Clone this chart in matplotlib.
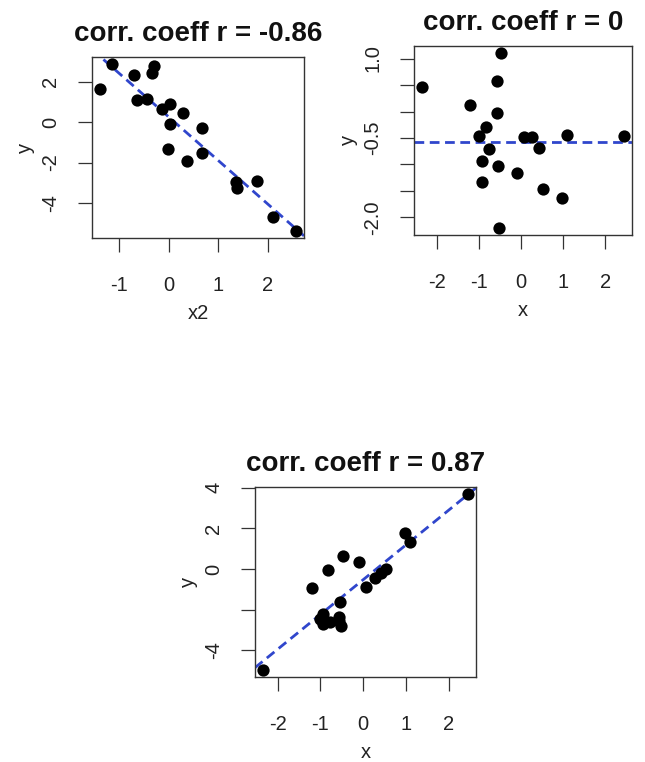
import numpy as np
import matplotlib
matplotlib.use("Agg")
import matplotlib.pyplot as plt

plt.rcParams["font.family"] = ["Liberation Sans", "DejaVu Sans"]
plt.rcParams["axes.unicode_minus"] = False

# panel 1: y against x2
x2 = [-1.39, -1.14, -0.71, -0.65, -0.43, -0.33, -0.29, -0.14, 0.03, 0.03,
      0.28, -0.01, 0.37, 0.67, 0.67, 1.35, 1.38, 1.79, 2.10, 2.57]
y1 = [1.65, 2.88, 2.32, 1.10, 1.12, 2.40, 2.76, 0.63, 0.87, -0.09,
      0.44, -1.33, -1.91, -0.30, -1.51, -2.97, -3.24, -2.92, -4.69, -5.39]

# panels 2 and 3 share x
x = [-2.34, -0.47, -0.56, -1.20, -0.56, -0.82, -1.00, -0.77, -0.93, -0.55,
     -0.93, -0.10, 0.07, 0.27, 0.42, 0.53, 0.98, 1.10, 2.45, -0.51]
y2 = [0.47, 1.11, 0.58, 0.13, -0.03, -0.29, -0.47, -0.70, -0.94, -1.03,
      -1.34, -1.17, -0.48, -0.48, -0.69, -1.46, -1.64, -0.44, -0.47, -2.20]
y3 = [-4.98, 0.65, -2.37, -0.93, -2.55, -0.05, -2.45, -2.60, -2.20, -1.63,
      -2.70, 0.36, -0.87, -0.45, -0.20, 0.00, 1.80, 1.31, 3.71, -2.78]

titles = ["corr. coeff r = -0.86", "corr. coeff r = 0", "corr. coeff r = 0.87"]

LINE_COL = "#3046cc"


def rlim(v):
    # R style: data range padded by 4% each side
    lo, hi = min(v), max(v)
    d = (hi - lo) * 0.04
    return lo - d, hi + d


def panel(ax, xs, ys, title, xlab, xticks, yticks, ylabels, flat=False):
    ax.scatter(xs, ys, s=78, color="black", zorder=3, linewidths=0)
    ax.set_xlim(rlim(xs))
    ax.set_ylim(rlim(ys))
    if flat:
        ax.axhline(np.mean(ys), color=LINE_COL, lw=2, dashes=(3.5, 2), zorder=2)
    else:
        b, a = np.polyfit(xs, ys, 1)
        gx = np.array(ax.get_xlim())
        ax.plot(gx, a + b * gx, color=LINE_COL, lw=2, dashes=(3.5, 2), zorder=2)
    ax.set_xticks(xticks)
    ax.set_yticks(yticks)
    ax.set_yticklabels(ylabels, rotation=90, va="center")
    ax.tick_params(direction="out", length=10, width=0.9, colors="#333333",
                   labelsize=14.5, labelcolor="#222222")
    ax.tick_params(axis="x", pad=17.5)
    ax.tick_params(axis="y", pad=13)
    for s in ax.spines.values():
        s.set_color("#333333")
        s.set_linewidth(1)
    ax.set_title(title, fontsize=20, fontweight="bold", pad=11.5, color="#111111")
    ax.set_xlabel(xlab, fontsize=14.5, labelpad=6, color="#222222")
    ax.set_ylabel("y", fontsize=14.5, labelpad=4, color="#222222")


fig = plt.figure(figsize=(6.45, 7.62), dpi=100)

ax1 = fig.add_axes([0.1426, 0.6877, 0.3287, 0.2375])
panel(ax1, x2, y1, titles[0], "x2", [-1, 0, 1, 2], [-4, -2, 0, 2],
      ["-4", "-2", "0", "2"])

ax2 = fig.add_axes([0.6423, 0.6916, 0.338, 0.2484])
yt2 = [1.0, 0.5, 0.0, -0.5, -1.0, -1.5, -2.0]
panel(ax2, x, y2, titles[1], "x", [-2, -1, 0, 1, 2], yt2,
      ["1.0", "", "", "-0.5", "", "", "-2.0"], flat=True)

ax3 = fig.add_axes([0.3953, 0.1112, 0.3426, 0.2501])
panel(ax3, x, y3, titles[2], "x", [-2, -1, 0, 1, 2], [-4, -2, 0, 2, 4],
      ["-4", "", "0", "2", "4"])

fig.savefig("out.png", dpi=100, facecolor="white")
